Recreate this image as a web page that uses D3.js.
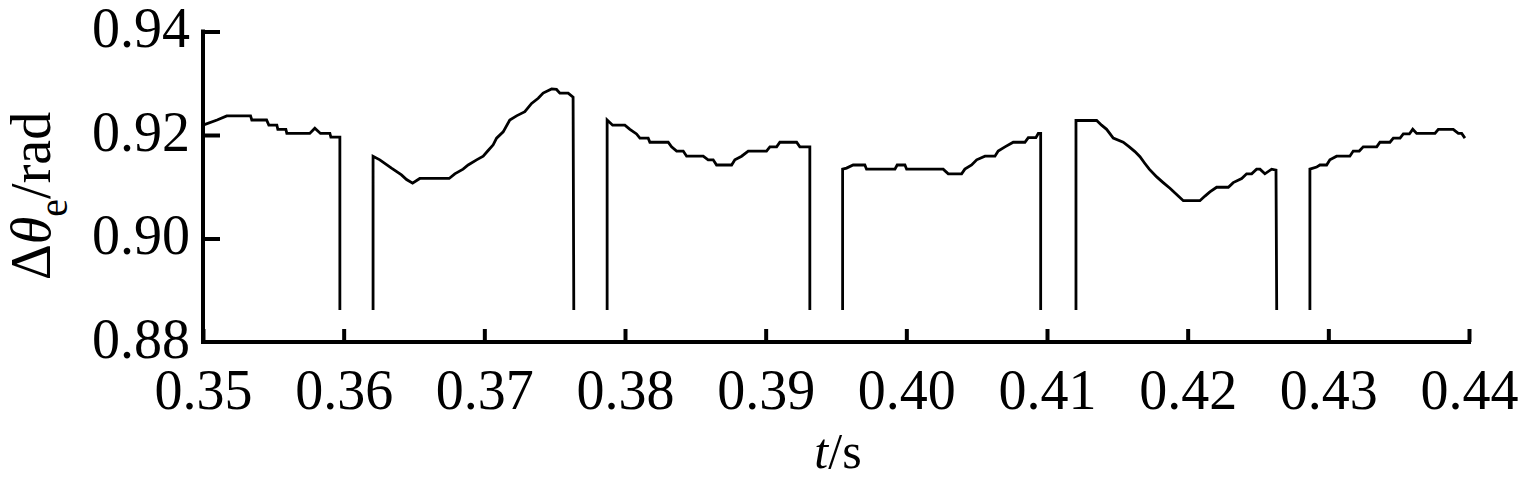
<!DOCTYPE html>
<html>
<head>
<meta charset="utf-8">
<script src="https://cdn.jsdelivr.net/npm/d3@7"></script>
<style>
  html, body { margin: 0; padding: 0; background: #fff; }
  svg { display: block; }
  text { font-family: "Liberation Serif", "Times New Roman", serif; fill: #000; }
</style>
</head>
<body>
<svg id="chart" width="1523" height="483"></svg>
<script>
// ---- data (t in s, Δθe in rad) ----
const xTicks = [0.35, 0.36, 0.37, 0.38, 0.39, 0.40, 0.41, 0.42, 0.43, 0.44];
const yTicks = [0.88, 0.90, 0.92, 0.94];
const dropLevel = 0.8862;

const seg1 = [[0.35000,0.9219],[0.35100,0.9229],[0.35169,0.9237],[0.35338,0.9237],[0.35347,0.9229],[0.35452,0.9229],
  [0.35468,0.9219],[0.35525,0.9219],[0.35532,0.9211],[0.35589,0.9211],[0.35596,0.9203],[0.35759,0.9203],[0.35795,0.9213],
  [0.35835,0.9203],[0.35902,0.9203],[0.35909,0.9196],[0.35973,0.9196],[0.35973,dropLevel]];
const seg2 = [[0.36209,dropLevel],[0.36209,0.9159],[0.36257,0.9152],[0.36340,0.9136],[0.36411,0.9123],[0.36447,0.9114],
  [0.36490,0.9107],[0.36541,0.9116],[0.36750,0.9116],[0.36790,0.9125],[0.36849,0.9134],[0.36885,0.9142],[0.36945,0.9152],
  [0.36992,0.9159],[0.37027,0.9170],[0.37063,0.9181],[0.37087,0.9194],[0.37134,0.9206],[0.37181,0.9229],[0.37229,0.9237],
  [0.37288,0.9245],[0.37336,0.9261],[0.37383,0.9271],[0.37418,0.9281],[0.37478,0.9289],[0.37513,0.9288],[0.37537,0.9281],
  [0.37596,0.9281],[0.37631,0.9273],[0.37636,dropLevel]];
const seg3 = [[0.37873,dropLevel],[0.37873,0.9229],[0.37912,0.9219],[0.37999,0.9219],[0.38035,0.9211],[0.38082,0.9202],
  [0.38106,0.9194],[0.38165,0.9194],[0.38177,0.9186],[0.38307,0.9186],[0.38331,0.9177],[0.38367,0.9169],[0.38414,0.9169],
  [0.38438,0.9159],[0.38556,0.9159],[0.38591,0.9152],[0.38627,0.9152],[0.38651,0.9142],[0.38758,0.9142],[0.38781,0.9152],
  [0.38829,0.9159],[0.38876,0.9169],[0.39006,0.9169],[0.39030,0.9177],[0.39078,0.9177],[0.39101,0.9186],[0.39220,0.9186],
  [0.39243,0.9177],[0.39314,0.9177],[0.39314,dropLevel]];
const seg4 = [[0.39547,dropLevel],[0.39547,0.9134],[0.39575,0.9136],[0.39622,0.9142],[0.39705,0.9142],[0.39717,0.9134],
  [0.39919,0.9134],[0.39935,0.9142],[0.39990,0.9142],[0.40002,0.9134],[0.40262,0.9134],[0.40298,0.9125],[0.40393,0.9125],
  [0.40416,0.9134],[0.40464,0.9142],[0.40500,0.9152],[0.40559,0.9159],[0.40630,0.9159],[0.40653,0.9169],[0.40701,0.9177],
  [0.40760,0.9186],[0.40843,0.9186],[0.40867,0.9195],[0.40921,0.9195],[0.40938,0.9203],[0.40955,0.9203],[0.40955,dropLevel]];
const seg5 = [[0.41206,dropLevel],[0.41206,0.9228],[0.41353,0.9228],[0.41388,0.9219],[0.41424,0.9211],[0.41471,0.9194],
  [0.41542,0.9186],[0.41585,0.9177],[0.41625,0.9168],[0.41661,0.9158],[0.41696,0.9145],[0.41727,0.9134],[0.41780,0.9119],
  [0.41826,0.9108],[0.41874,0.9097],[0.41933,0.9082],[0.41969,0.9073],[0.42087,0.9073],[0.42123,0.9082],[0.42158,0.9090],
  [0.42206,0.9099],[0.42289,0.9099],[0.42324,0.9108],[0.42384,0.9116],[0.42419,0.9125],[0.42455,0.9125],[0.42490,0.9134],
  [0.42514,0.9134],[0.42549,0.9125],[0.42597,0.9134],[0.42628,0.9132],[0.42633,dropLevel]];
const seg6 = [[0.42869,dropLevel],[0.42869,0.9134],[0.42917,0.9138],[0.42940,0.9142],[0.42988,0.9142],[0.43011,0.9152],
  [0.43059,0.9159],[0.43153,0.9159],[0.43177,0.9169],[0.43220,0.9169],[0.43248,0.9177],[0.43344,0.9177],[0.43367,0.9186],
  [0.43438,0.9186],[0.43462,0.9194],[0.43510,0.9194],[0.43533,0.9202],[0.43576,0.9202],[0.43600,0.9211],[0.43628,0.9203],
  [0.43758,0.9203],[0.43782,0.9211],[0.43888,0.9211],[0.43924,0.9203],[0.43948,0.9203],[0.43971,0.9194]];
const segments = [seg1, seg2, seg3, seg4, seg5, seg6];

// ---- layout ----
const svg = d3.select("#chart");
const mLeft = 203, mRight = 1469, mTop = 31.5, mBottom = 342;
const x = d3.scaleLinear().domain([0.35, 0.44]).range([mLeft, mRight]);
const y = d3.scaleLinear().domain([0.88, 0.94]).range([mBottom, mTop]);

// data line
const line = d3.line().x(d => x(d[0])).y(d => y(d[1]));
svg.append("g").selectAll("path").data(segments).join("path")
  .attr("d", line)
  .attr("fill", "none")
  .attr("stroke", "#000")
  .attr("stroke-width", 2.8)
  .attr("stroke-linejoin", "miter");

// x axis
const xAxis = d3.axisBottom(x).tickValues(xTicks).tickSize(0).tickFormat(d3.format(".2f"));
const gx = svg.append("g").attr("transform", `translate(0,${mBottom})`).call(xAxis);
gx.select(".domain").remove();
gx.selectAll(".tick text").attr("font-size", 56).attr("dy", null).attr("y", 67)
  .attr("font-family", "Liberation Serif");
gx.selectAll(".tick").append("line")
  .attr("y1", 0).attr("y2", -13)
  .attr("stroke", "#000").attr("stroke-width", 4);
svg.append("line").attr("x1", mLeft - 2).attr("x2", mRight + 2).attr("y1", mBottom).attr("y2", mBottom)
  .attr("stroke", "#000").attr("stroke-width", 4);

// y axis
const yAxis = d3.axisLeft(y).tickValues(yTicks).tickSize(0).tickFormat(d3.format(".2f"));
const gy = svg.append("g").attr("transform", `translate(${mLeft},0)`).call(yAxis);
gy.select(".domain").remove();
gy.selectAll(".tick text").attr("font-size", 56).attr("dy", null).attr("x", -13).attr("y", 15)
  .attr("font-family", "Liberation Serif");
gy.selectAll(".tick").filter(d => d !== 0.88).append("line")
  .attr("x1", 0).attr("x2", 17)
  .attr("stroke", "#000").attr("stroke-width", 4);
svg.append("line").attr("x1", mLeft).attr("x2", mLeft).attr("y1", mTop - 2).attr("y2", mBottom + 2)
  .attr("stroke", "#000").attr("stroke-width", 4);

// axis titles
const xt = svg.append("text").attr("x", (mLeft + mRight) / 2 + 2).attr("y", 468)
  .attr("text-anchor", "middle").attr("font-size", 50);
xt.append("tspan").attr("font-style", "italic").text("t");
xt.append("tspan").text("/s");

const yt = svg.append("text")
  .attr("transform", "translate(50,196) rotate(-90)")
  .attr("text-anchor", "middle").attr("font-size", 56);
yt.append("tspan").text("Δ");
yt.append("tspan").attr("font-style", "italic").text("θ");
yt.append("tspan").attr("font-size", 40).attr("dy", 17).text("e");
yt.append("tspan").attr("dy", -17).text("/rad");
</script>
</body>
</html>
